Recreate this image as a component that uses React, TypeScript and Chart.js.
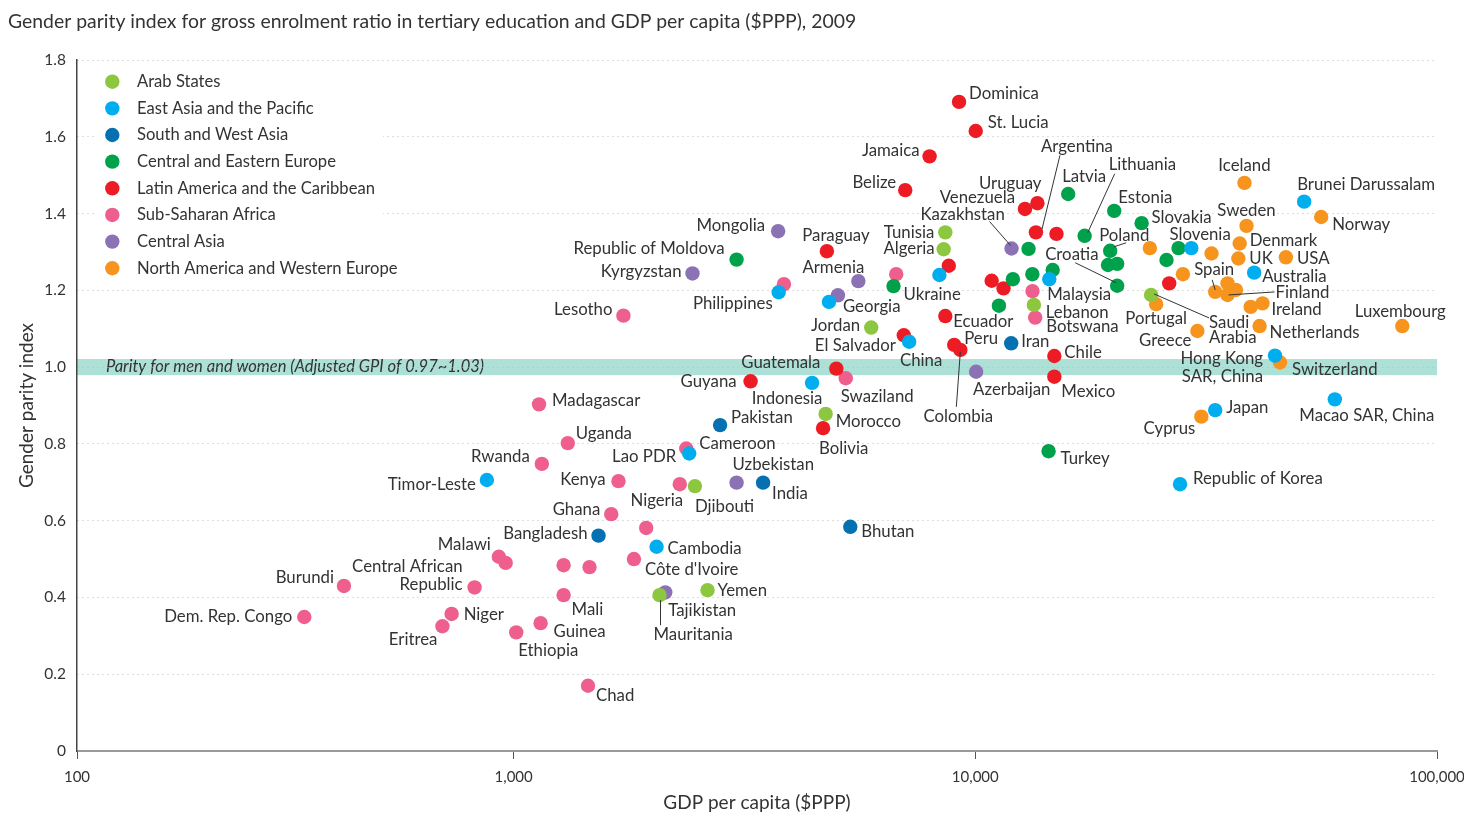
import React, { useEffect, useRef } from 'react';
import { Chart, registerables } from 'chart.js';

Chart.register(...registerables);

const FONT = 'Lato, "Open Sans", "DejaVu Sans", sans-serif';
const TEXT = '#333333';

const TITLE = 'Gender parity index for gross enrolment ratio in tertiary education and GDP per capita ($PPP), 2009';
const X_TITLE = 'GDP per capita ($PPP)';
const Y_TITLE = 'Gender parity index';
const PARITY_TEXT = 'Parity for men and women (Adjusted GPI of 0.97~1.03)';

// tick labels; the drawn axis begins slightly above 100 (the "100" label sits at the axis start)
const X_TICKS = [100, 1000, 10000, 100000];
const X_MIN = 113.3;
const X_MAX = 100000;
const Y_MIN = 0;
const Y_MAX = 1.8;
const Y_STEP = 0.2;
const PARITY_LOW = 0.979;
const PARITY_HIGH = 1.021;

const REGIONS = [
  'Arab States',
  'East Asia and the Pacific',
  'South and West Asia',
  'Central and Eastern Europe',
  'Latin America and the Caribbean',
  'Sub-Saharan Africa',
  'Central Asia',
  'North America and Western Europe',
];
const COLORS = ['#8dc63f', '#00aeef', '#0571b0', '#00a14b', '#ed1c24', '#ef5f8e', '#8b72b5', '#f7941d'];

// Arab States
const arabNames = ['Djibouti', 'Mauritania', 'Yemen', 'Morocco', 'Jordan', 'Tunisia', 'Algeria', 'Lebanon', 'Saudi Arabia'];
const arabGdp = [2470, 2070, 2630, 4740, 5950, 8610, 8540, 13390, 24030];
const arabGpi = [0.69, 0.406, 0.419, 0.878, 1.103, 1.351, 1.307, 1.162, 1.188];

// East Asia and the Pacific
const eapNames = ['Timor-Leste', 'Lao PDR', 'Cambodia', 'Indonesia', 'Philippines', '', 'China', '', 'Malaysia', '', 'Australia', 'Brunei Darussalam', 'Hong Kong SAR, China', 'Macao SAR, China', 'Japan', 'Republic of Korea'];
const eapGdp = [875, 2400, 2040, 4430, 3750, 4820, 7190, 8360, 14460, 29370, 40180, 51550, 44580, 60080, 33080, 27760];
const eapGpi = [0.706, 0.775, 0.532, 0.959, 1.195, 1.17, 1.066, 1.24, 1.229, 1.31, 1.246, 1.431, 1.03, 0.916, 0.888, 0.695];

// South and West Asia
const swaNames = ['Bangladesh', 'Pakistan', 'India', 'Bhutan', 'Iran'];
const swaGdp = [1527, 2800, 3470, 5360, 11960];
const swaGpi = [0.561, 0.849, 0.699, 0.584, 1.062];

// Central and Eastern Europe
const ceeNames = ['Republic of Moldova', 'Ukraine', 'Latvia', 'Estonia', 'Slovakia', 'Lithuania', '', 'Poland', '', '', 'Slovenia', '', 'Croatia', '', '', '', '', 'Turkey'];
const ceeGdp = [3040, 6650, 15890, 19990, 22920, 17250, 13040, 19590, 19380, 20290, 27550, 25950, 20290, 12060, 13290, 14710, 11250, 14410];
const ceeGpi = [1.28, 1.211, 1.451, 1.407, 1.375, 1.342, 1.308, 1.303, 1.266, 1.269, 1.31, 1.279, 1.212, 1.229, 1.242, 1.253, 1.16, 0.781];

// Latin America and the Caribbean
const lacNames = ['Guyana', 'Bolivia', 'Guatemala', 'Paraguay', 'El Salvador', 'Dominica', 'St. Lucia', 'Jamaica', 'Belize', 'Uruguay', 'Venezuela', 'Argentina', '', '', 'Ecuador', 'Peru', 'Colombia', 'Chile', 'Mexico', '', '', ''];
const lacGdp = [3260, 4680, 5000, 4770, 7000, 9220, 10020, 7960, 7050, 13630, 12810, 13530, 14990, 8760, 8610, 9000, 9280, 14830, 14830, 10850, 11510, 26300];
const lacGpi = [0.963, 0.841, 0.996, 1.302, 1.083, 1.691, 1.615, 1.549, 1.461, 1.427, 1.412, 1.351, 1.347, 1.264, 1.133, 1.058, 1.045, 1.029, 0.975, 1.225, 1.205, 1.218];

// Sub-Saharan Africa
const ssaNames = ['Dem. Rep. Congo', 'Burundi', 'Central African Republic', 'Niger', 'Eritrea', 'Malawi', '', 'Uganda', 'Rwanda', 'Kenya', 'Ghana', 'Nigeria', '', 'Cameroon', "Côte d'Ivoire", '', '', 'Mali', 'Guinea', 'Ethiopia', 'Chad', 'Madagascar', 'Lesotho', 'Swaziland', '', '', '', 'Botswana'];
const ssaGdp = [352, 429, 823, 734, 701, 929, 961, 1310, 1151, 1687, 1627, 2290, 1937, 2365, 1822, 1283, 1460, 1283, 1144, 1013, 1449, 1135, 1729, 5240, 3850, 6740, 13300, 13480];
const ssaGpi = [0.349, 0.43, 0.426, 0.357, 0.325, 0.506, 0.49, 0.802, 0.748, 0.703, 0.617, 0.695, 0.581, 0.788, 0.5, 0.484, 0.479, 0.406, 0.333, 0.309, 0.17, 0.903, 1.134, 0.971, 1.216, 1.242, 1.198, 1.129];

// Central Asia
const caNames = ['Mongolia', 'Kyrgyzstan', 'Armenia', 'Georgia', 'Uzbekistan', 'Tajikistan', 'Kazakhstan', 'Azerbaijan'];
const caGdp = [3740, 2440, 5580, 5040, 3040, 2130, 11980, 10040];
const caGpi = [1.354, 1.244, 1.224, 1.187, 0.699, 0.413, 1.309, 0.988];

// North America and Western Europe
const naweNames = ['Iceland', 'Norway', 'Sweden', 'Denmark', 'UK', 'USA', '', '', '', 'Spain', '', '', 'Finland', '', 'Ireland', 'Netherlands', 'Portugal', 'Greece', 'Luxembourg', 'Switzerland', 'Cyprus'];
const naweGdp = [38280, 56120, 38680, 37380, 37130, 47070, 32480, 23880, 28160, 33080, 35180, 36680, 35180, 39480, 41880, 41280, 24640, 30270, 84100, 45720, 30870];
const naweGpi = [1.48, 1.391, 1.368, 1.322, 1.283, 1.286, 1.296, 1.31, 1.242, 1.196, 1.218, 1.201, 1.188, 1.157, 1.166, 1.107, 1.164, 1.094, 1.107, 1.012, 0.871];

const SERIES = [
  [arabNames, arabGdp, arabGpi],
  [eapNames, eapGdp, eapGpi],
  [swaNames, swaGdp, swaGpi],
  [ceeNames, ceeGdp, ceeGpi],
  [lacNames, lacGdp, lacGpi],
  [ssaNames, ssaGdp, ssaGpi],
  [caNames, caGdp, caGpi],
  [naweNames, naweGdp, naweGpi],
] as [string[], number[], number[]][];

type Layout = {
  dx: number;
  dy: number;
  align: CanvasTextAlign;
  lines?: string[];
  gap?: number;
  leader?: [number, number, number, number];
};

// label placement relative to each point (pixels)
const LABEL_LAYOUT: Record<string, Layout> = {
  'Dem. Rep. Congo': { dx: -12, dy: 0, align: 'right' },
  'Burundi': { dx: -10, dy: -8, align: 'right' },
  'Central African Republic': { dx: -12, dy: -21, align: 'right', lines: ['Central African', 'Republic'], gap: 18 },
  'Malawi': { dx: -8, dy: -12, align: 'right' },
  'Niger': { dx: 12, dy: 1, align: 'left' },
  'Eritrea': { dx: -5, dy: 13, align: 'right' },
  'Ethiopia': { dx: 2, dy: 18, align: 'left' },
  'Guinea': { dx: 13, dy: 8, align: 'left' },
  'Mali': { dx: 8, dy: 14, align: 'left' },
  'Chad': { dx: 8, dy: 10, align: 'left' },
  'Ghana': { dx: -11, dy: -5, align: 'right' },
  'Kenya': { dx: -13, dy: -2, align: 'right' },
  'Nigeria': { dx: -23, dy: 16, align: 'center' },
  'Rwanda': { dx: -12, dy: -7, align: 'right' },
  'Uganda': { dx: 8, dy: -10, align: 'left' },
  'Cameroon': { dx: 13, dy: -5, align: 'left' },
  "Côte d'Ivoire": { dx: 11, dy: 11, align: 'left' },
  'Madagascar': { dx: 13, dy: -4, align: 'left' },
  'Lesotho': { dx: -11, dy: -6, align: 'right' },
  'Swaziland': { dx: -5, dy: 18, align: 'left' },
  'Botswana': { dx: 11, dy: 9, align: 'left' },
  'Timor-Leste': { dx: -11, dy: 5, align: 'right' },
  'Lao PDR': { dx: -13, dy: 3, align: 'right' },
  'Cambodia': { dx: 11, dy: 2, align: 'left' },
  'Indonesia': { dx: -25, dy: 16, align: 'center' },
  'Philippines': { dx: -6, dy: 11, align: 'right' },
  'China': { dx: 12, dy: 19, align: 'center' },
  'Malaysia': { dx: -2, dy: 15, align: 'left' },
  'Australia': { dx: 8, dy: 4, align: 'left' },
  'Brunei Darussalam': { dx: -7, dy: -17, align: 'left' },
  'Hong Kong SAR, China': { dx: -12, dy: 3, align: 'right', lines: ['Hong Kong', 'SAR, China'], gap: 18 },
  'Macao SAR, China': { dx: 32, dy: 16, align: 'center' },
  'Japan': { dx: 11, dy: -3, align: 'left' },
  'Republic of Korea': { dx: 13, dy: -6, align: 'left' },
  'Bangladesh': { dx: -11, dy: -2, align: 'right' },
  'Pakistan': { dx: 11, dy: -7, align: 'left' },
  'India': { dx: 9, dy: 11, align: 'left' },
  'Bhutan': { dx: 11, dy: 5, align: 'left' },
  'Iran': { dx: 10, dy: -2, align: 'left' },
  'Djibouti': { dx: 0, dy: 20, align: 'left' },
  'Mauritania': { dx: -6, dy: 39, align: 'left', leader: [1, 5, 1, 30] },
  'Yemen': { dx: 10, dy: 0, align: 'left' },
  'Morocco': { dx: 10, dy: 8, align: 'left' },
  'Jordan': { dx: -11, dy: -2, align: 'right' },
  'Tunisia': { dx: -11, dy: 0, align: 'right' },
  'Algeria': { dx: -9, dy: -1, align: 'right' },
  'Lebanon': { dx: 12, dy: 8, align: 'left' },
  'Saudi Arabia': { dx: 58, dy: 28, align: 'left', lines: ['Saudi', 'Arabia'], gap: 15, leader: [3, -1, 58, 23] },
  'Republic of Moldova': { dx: -12, dy: -11, align: 'right' },
  'Ukraine': { dx: 10, dy: 8, align: 'left' },
  'Latvia': { dx: -6, dy: -17, align: 'left' },
  'Estonia': { dx: 4, dy: -13, align: 'left' },
  'Slovakia': { dx: 10, dy: -6, align: 'left' },
  'Lithuania': { dx: 24, dy: -71, align: 'left', leader: [3, -3, 30, -62] },
  'Argentina': { dx: 41, dy: -86, align: 'center', leader: [6, -3, 24, -77] },
  'Poland': { dx: -11, dy: -15, align: 'left', leader: [4, -4, 16, -8] },
  'Slovenia': { dx: -9, dy: -14, align: 'left' },
  'Croatia': { dx: -72, dy: -31, align: 'left', leader: [-42, -23, -1, -3] },
  'Turkey': { dx: 12, dy: 7, align: 'left' },
  'Kazakhstan': { dx: -91, dy: -34, align: 'left', leader: [-22, -27, -1, -3] },
  'Dominica': { dx: 10, dy: -8, align: 'left' },
  'St. Lucia': { dx: 12, dy: -8, align: 'left' },
  'Jamaica': { dx: -10, dy: -6, align: 'right' },
  'Belize': { dx: -9, dy: -8, align: 'right' },
  'Uruguay': { dx: 4, dy: -20, align: 'right' },
  'Venezuela': { dx: -10, dy: -11, align: 'right' },
  'Paraguay': { dx: 9, dy: -16, align: 'center' },
  'Guatemala': { dx: -16, dy: -6, align: 'right' },
  'Guyana': { dx: -14, dy: 0, align: 'right' },
  'Bolivia': { dx: -4, dy: 20, align: 'left' },
  'El Salvador': { dx: -8, dy: 10, align: 'right' },
  'Ecuador': { dx: 8, dy: 6, align: 'left' },
  'Peru': { dx: 10, dy: -6, align: 'left' },
  'Colombia': { dx: -2, dy: 67, align: 'center', leader: [-4, 57, 0, 2] },
  'Chile': { dx: 10, dy: -3, align: 'left' },
  'Mexico': { dx: 7, dy: 15, align: 'left' },
  'Mongolia': { dx: -13, dy: -6, align: 'right' },
  'Kyrgyzstan': { dx: -11, dy: -2, align: 'right' },
  'Armenia': { dx: -25, dy: -14, align: 'center' },
  'Georgia': { dx: 5, dy: 11, align: 'left' },
  'Uzbekistan': { dx: -4, dy: -18, align: 'left' },
  'Tajikistan': { dx: 3, dy: 18, align: 'left' },
  'Azerbaijan': { dx: -3, dy: 18, align: 'left' },
  'Iceland': { dx: 0, dy: -17, align: 'center' },
  'Norway': { dx: 11, dy: 8, align: 'left' },
  'Sweden': { dx: 0, dy: -15, align: 'center' },
  'Denmark': { dx: 10, dy: -3, align: 'left' },
  'UK': { dx: 11, dy: 0, align: 'left' },
  'USA': { dx: 11, dy: 1, align: 'left' },
  'Spain': { dx: -1, dy: -22, align: 'center', leader: [-3, -12, 0, -2] },
  'Finland': { dx: 48, dy: -2, align: 'left', leader: [1, 0, 47, -3] },
  'Ireland': { dx: 9, dy: 6, align: 'left' },
  'Netherlands': { dx: 10, dy: 7, align: 'left' },
  'Portugal': { dx: 0, dy: 14, align: 'center' },
  'Greece': { dx: -6, dy: 10, align: 'right' },
  'Luxembourg': { dx: -2, dy: -14, align: 'center' },
  'Switzerland': { dx: 12, dy: 7, align: 'left' },
  'Cyprus': { dx: -6, dy: 12, align: 'right' },
};

const decorPlugin = {
  id: 'decor',
  beforeDraw(chart: any) {
    const { ctx, chartArea, scales } = chart;
    const yTop = scales.y.getPixelForValue(PARITY_HIGH);
    const yBot = scales.y.getPixelForValue(PARITY_LOW);
    ctx.save();
    ctx.fillStyle = '#ade0d6';
    ctx.fillRect(chartArea.left, yTop, chartArea.right - chartArea.left, yBot - yTop);
    ctx.font = `italic 16.5px ${FONT}`;
    ctx.fillStyle = TEXT;
    ctx.textAlign = 'left';
    ctx.textBaseline = 'middle';
    ctx.fillText(PARITY_TEXT, chartArea.left + 29, scales.y.getPixelForValue(1));
    ctx.restore();
  },
  beforeDatasetsDraw(chart: any) {
    const { ctx } = chart;
    ctx.save();
    ctx.fillStyle = '#ffffff';
    ctx.fillRect(95, 68, 288, 212);
    ctx.font = `16.6px ${FONT}`;
    ctx.textBaseline = 'middle';
    ctx.textAlign = 'left';
    REGIONS.forEach((r, i) => {
      const y = 81.7 + i * 26.65;
      ctx.fillStyle = COLORS[i];
      ctx.beginPath();
      ctx.arc(112.3, y, 7.2, 0, Math.PI * 2);
      ctx.fill();
      ctx.fillStyle = TEXT;
      ctx.fillText(r, 137, y);
    });
    ctx.restore();
  },
  afterDatasetsDraw(chart: any) {
    const { ctx } = chart;
    ctx.save();
    ctx.font = `16.8px ${FONT}`;
    ctx.textBaseline = 'middle';
    ctx.strokeStyle = '#333333';
    ctx.lineWidth = 1;
    SERIES.forEach((s, di) => {
      const meta = chart.getDatasetMeta(di);
      s[0].forEach((name, j) => {
        const lay = LABEL_LAYOUT[name];
        if (!name || !lay) return;
        const pt = meta.data[j];
        const x = pt.x;
        const y = pt.y;
        if (lay.leader) {
          const [x1, y1, x2, y2] = lay.leader;
          ctx.beginPath();
          ctx.moveTo(x + x1, y + y1);
          ctx.lineTo(x + x2, y + y2);
          ctx.stroke();
        }
        const lines = lay.lines || [name];
        const gap = lay.gap || 18;
        ctx.fillStyle = TEXT;
        ctx.textAlign = lay.align;
        lines.forEach((ln, k) => ctx.fillText(ln, x + lay.dx, y + lay.dy + k * gap));
      });
    });
    ctx.restore();
  },
  afterDraw(chart: any) {
    const { ctx } = chart;
    ctx.save();
    ctx.font = `19.4px ${FONT}`;
    ctx.fillStyle = TEXT;
    ctx.textAlign = 'left';
    ctx.textBaseline = 'middle';
    ctx.fillText(TITLE, 8, 22);
    ctx.restore();
  },
};

export default function App() {
  const ref = useRef<HTMLCanvasElement | null>(null);
  useEffect(() => {
    if (!ref.current) return;
    const chart = new Chart(ref.current, {
      type: 'scatter',
      data: {
        datasets: SERIES.map((s, i) => ({
          label: REGIONS[i],
          data: s[1].map((g, j) => ({ x: g, y: s[2][j] })),
          backgroundColor: COLORS[i],
          borderWidth: 0,
          pointRadius: 7.2,
          pointHoverRadius: 7.2,
        })),
      },
      options: {
        responsive: false,
        animation: false,
        events: [],
        layout: { padding: { top: 60, right: 27, bottom: 0, left: 0 } },
        plugins: { legend: { display: false }, tooltip: { enabled: false }, title: { display: false } },
        scales: {
          x: {
            type: 'logarithmic',
            min: X_MIN,
            max: X_MAX,
            afterBuildTicks: (s: any) => {
              s.ticks = X_TICKS.map((v) => ({ value: Math.min(Math.max(v, X_MIN), X_MAX) }));
            },
            afterFit: (s: any) => {
              s.height = 65;
              s.paddingLeft = 0;
              s.paddingRight = 0;
            },
            grid: { drawOnChartArea: false, drawTicks: true, tickLength: 8, color: '#555555', lineWidth: 1 },
            border: { display: true, color: '#999999', width: 2 },
            ticks: {
              autoSkip: false,
              maxRotation: 0,
              padding: 9,
              color: TEXT,
              font: { family: FONT, size: 15 },
              callback: (_v: any, i: number) => X_TICKS[i].toLocaleString('en-US'),
            },
            title: { display: true, text: X_TITLE, color: TEXT, font: { family: FONT, size: 19 }, padding: { top: 4, bottom: 2 } },
          },
          y: {
            min: Y_MIN,
            max: Y_MAX,
            afterFit: (s: any) => {
              s.width = 77;
            },
            grid: {
              drawTicks: false,
              lineWidth: 1,
              color: (c: any) => (c.tick && Math.abs(c.tick.value) < 1e-9 ? 'rgba(0,0,0,0)' : '#bdbdbd'),
            },
            border: { display: true, color: '#444444', width: 1.5, dash: [1, 4] },
            ticks: {
              stepSize: Y_STEP,
              padding: 11,
              color: TEXT,
              font: { family: FONT, size: 15.5 },
              callback: (v: any) => (Math.abs(v) < 1e-9 ? '0' : Number(v).toFixed(1)),
            },
            title: { display: true, text: Y_TITLE, color: TEXT, font: { family: FONT, size: 19 }, padding: { top: 15, bottom: 0 } },
          },
        },
      },
      plugins: [decorPlugin],
    } as any);
    return () => chart.destroy();
  }, []);
  return (
    <div style={{ position: 'absolute', left: 0, top: 0, width: 1464, height: 816, background: '#fff' }}>
      <canvas ref={ref} width={1464} height={816} style={{ display: 'block', width: 1464, height: 816 }} />
    </div>
  );
}
